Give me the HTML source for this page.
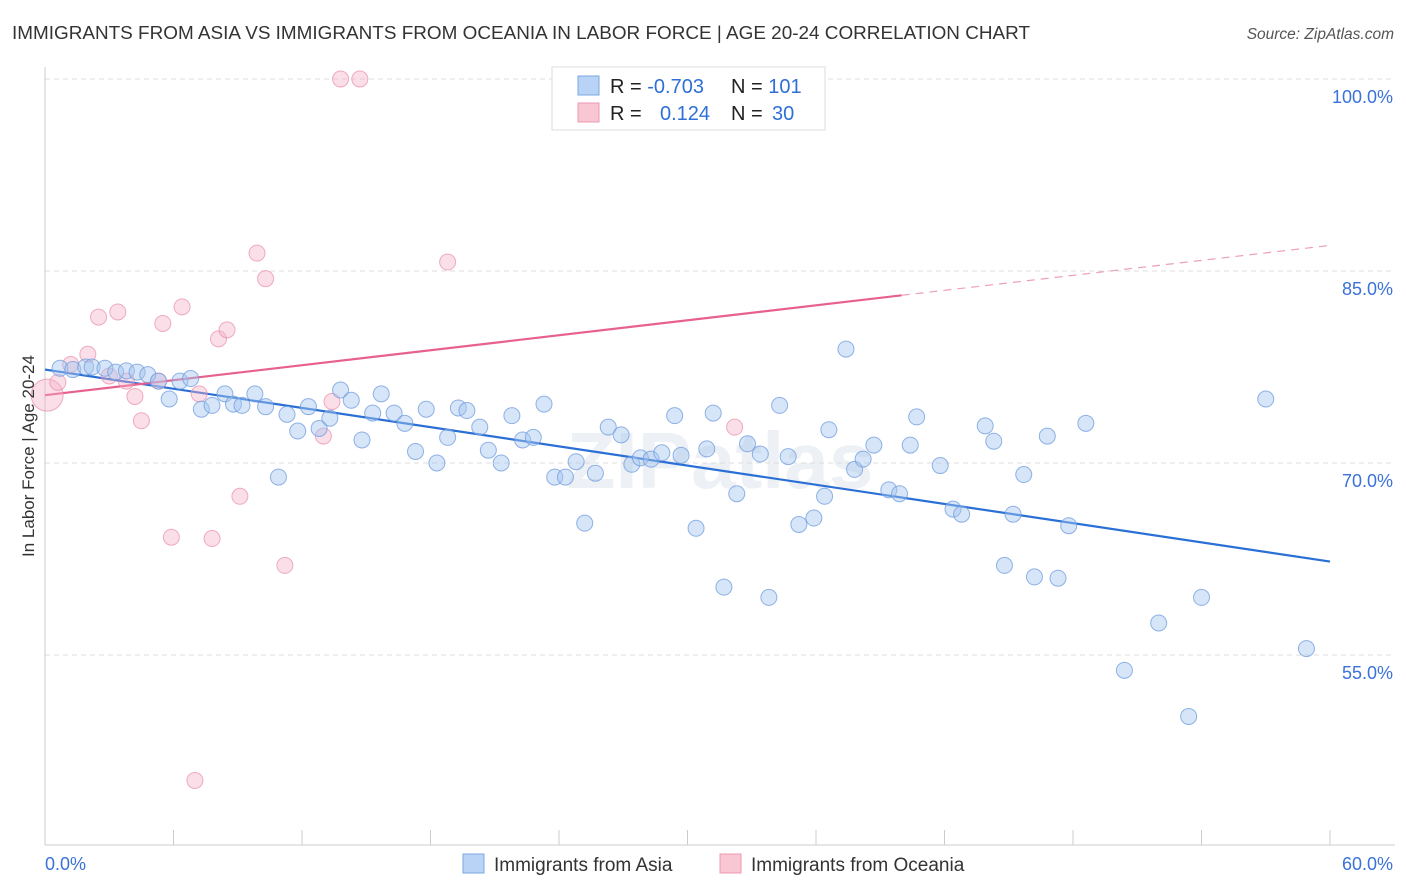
<!DOCTYPE html>
<html><head><meta charset="utf-8"><style>
body{margin:0;background:#fff;font-family:"Liberation Sans",sans-serif}
svg{display:block}
</style></head><body>
<svg id="c" width="1406" height="892">
<text x="12" y="39" font-size="18.5" fill="#333" textLength="1018" lengthAdjust="spacingAndGlyphs">IMMIGRANTS FROM ASIA VS IMMIGRANTS FROM OCEANIA IN LABOR FORCE | AGE 20-24 CORRELATION CHART</text>
<text x="1394" y="39" font-size="15.5" fill="#555" font-style="italic" text-anchor="end">Source: ZipAtlas.com</text>
<text x="720" y="488" font-size="80" fill="#edf0f5" text-anchor="middle" font-weight="bold">ZIPatlas</text>
<g id="grid"></g>
<g id="axes"></g>
<g id="lines"></g>
<g id="pts"></g>
<text transform="translate(34,456) rotate(-90)" font-size="17" fill="#333" text-anchor="middle">In Labor Force | Age 20-24</text>
<g>
<rect x="552" y="67" width="273" height="63" fill="#fff" stroke="#ddd"/>
<rect x="578" y="76" width="21" height="19" fill="#b8d3f5" stroke="#7aa8e4"/>
<rect x="578" y="103" width="21" height="19" fill="#f9c6d4" stroke="#ec98b0"/>
<text x="610" y="93" font-size="20" fill="#222">R = <tspan fill="#2f6fd8">-0.703</tspan></text>
<text x="731" y="93" font-size="20" fill="#222">N = <tspan fill="#2f6fd8">101</tspan></text>
<text x="610" y="120" font-size="20" fill="#222">R = <tspan x="660" fill="#2f6fd8">0.124</tspan></text>
<text x="731" y="120" font-size="20" fill="#222">N = <tspan x="772" fill="#2f6fd8">30</tspan></text>
</g>
<g>
<rect x="463" y="854" width="21" height="19" fill="#b8d3f5" stroke="#7aa8e4"/>
<text x="494" y="871" font-size="19" fill="#333">Immigrants from Asia</text>
<rect x="720" y="854" width="21" height="19" fill="#f9c6d4" stroke="#ec98b0"/>
<text x="751" y="871" font-size="19" fill="#333">Immigrants from Oceania</text>
</g>
</svg>
<script>
const yTicks=[100,85,70,55];
const xTickLabels=["0.0%","60.0%"];
const asiaX=[0.7,1.3,1.9,2.2,2.8,3.3,3.8,4.3,4.8,5.3,5.8,6.3,6.8,7.3,7.8,8.4,8.8,9.2,9.8,10.3,10.9,11.3,11.8,12.3,12.8,13.3,13.8,14.3,14.8,15.3,15.7,16.3,16.8,17.3,17.8,18.3,18.8,19.3,19.7,20.3,20.7,21.3,21.8,22.3,22.8,23.3,23.8,24.3,24.8,25.2,25.7,26.3,26.9,27.4,27.8,28.3,28.8,29.4,29.7,30.4,30.9,31.2,31.7,32.3,32.8,33.4,33.8,34.3,34.7,35.2,35.9,36.4,36.6,37.4,37.8,38.2,38.7,39.4,39.9,40.4,40.7,41.8,42.4,42.8,43.9,44.3,44.8,45.2,45.7,46.2,46.8,47.3,47.8,48.6,50.4,52.0,53.4,54.0,57.0,58.9];
const asiaY=[77.4,77.3,77.5,77.5,77.4,77.1,77.2,77.1,76.9,76.4,75.0,76.4,76.6,74.2,74.5,75.4,74.6,74.5,75.4,74.4,68.9,73.8,72.5,74.4,72.7,73.5,75.7,74.9,71.8,73.9,75.4,73.9,73.1,70.9,74.2,70.0,72.0,74.3,74.1,72.8,71.0,70.0,73.7,71.8,72.0,74.6,68.9,68.9,70.1,65.3,69.2,72.8,72.2,69.9,70.4,70.3,70.8,73.7,70.6,64.9,71.1,73.9,60.3,67.6,71.5,70.7,59.5,74.5,70.5,65.2,65.7,67.4,72.6,78.9,69.5,70.3,71.4,67.9,67.6,71.4,73.6,69.8,66.4,66.0,72.9,71.7,62.0,66.0,69.1,61.1,72.1,61.0,65.1,73.1,53.8,57.5,50.2,59.5,75.0,55.5];
const ocX=[0.1,0.6,1.2,2.0,2.5,3.0,3.4,3.8,4.2,4.5,5.3,5.5,5.9,6.4,7.0,7.2,7.8,8.1,8.5,9.1,9.9,10.3,11.2,13.0,13.4,13.8,14.7,18.8,32.2];
const ocY=[75.3,76.3,77.7,78.5,81.4,76.8,81.8,76.4,75.2,73.3,76.4,80.9,64.2,82.2,45.2,75.4,64.1,79.7,80.4,67.4,86.4,84.4,62.0,72.1,74.8,100,100,85.7,72.8];
const asiaTrend=[77.3,62.3];
const ocTrend=[75.3,83.1,87.0];
const ocTrendX=[0,40,60];
const NS="http://www.w3.org/2000/svg";
const X=v=>45+v*(1330-45)/60;
const Y=v=>79+(100-v)*(271-79)/15;
function mk(p,t,a){const e=document.createElementNS(NS,t);for(const k in a)e.setAttribute(k,a[k]);p.appendChild(e);return e;}
const grid=document.getElementById('grid'),axes=document.getElementById('axes'),lines=document.getElementById('lines'),pts=document.getElementById('pts');
yTicks.forEach(t=>{
 const l=mk(grid,'line',{x1:45,x2:1395,y1:Y(t),y2:Y(t),stroke:'#dcdcdc','stroke-dasharray':'5,4'});
 
 
 const tx=mk(grid,'text',{x:1393,y:Y(t)+24,'font-size':18,fill:'#3a72d8','text-anchor':'end'});
 tx.textContent=t.toFixed(1)+'%';
 
 
});
mk(axes,'line',{x1:45,x2:45,y1:67,y2:845,stroke:'#ccc'});
mk(axes,'line',{x1:45,x2:1395,y1:845,y2:845,stroke:'#ccc'});
for(let i=0;i<=10;i++){mk(axes,'line',{x1:X(i*6),x2:X(i*6),y1:830,y2:845,stroke:'#ccc'});}
const xl0=mk(axes,'text',{x:45,y:870,'font-size':18,fill:'#3a72d8'});xl0.textContent=xTickLabels[0];


const xl1=mk(axes,'text',{x:1393,y:870,'font-size':18,fill:'#3a72d8','text-anchor':'end'});xl1.textContent=xTickLabels[1];


ocX.forEach((v,i)=>{
 const c=mk(pts,'circle',{cx:X(v),cy:Y(ocY[i]),r:i===0?16:8,fill:'rgba(245,175,198,0.4)',stroke:'rgba(232,140,170,0.7)','stroke-width':1});
 
 
});
asiaX.forEach((v,i)=>{
 const c=mk(pts,'circle',{cx:X(v),cy:Y(asiaY[i]),r:8,fill:'rgba(165,198,240,0.45)',stroke:'rgba(110,155,222,0.75)','stroke-width':1});
 
 
});
const bl=mk(lines,'line',{x1:X(0),y1:Y(asiaTrend[0]),x2:X(60),y2:Y(asiaTrend[1]),stroke:'#2a6fd6','stroke-width':2.2});


const pl=mk(lines,'line',{x1:X(ocTrendX[0]),y1:Y(ocTrend[0]),x2:X(ocTrendX[1]),y2:Y(ocTrend[1]),stroke:'#e8608f','stroke-width':2.2});


const pd=mk(lines,'line',{x1:X(ocTrendX[1]),y1:Y(ocTrend[1]),x2:X(ocTrendX[2]),y2:Y(ocTrend[2]),stroke:'#eba0b8','stroke-width':1.2,'stroke-dasharray':'8,6'});


</script>
</body></html>
